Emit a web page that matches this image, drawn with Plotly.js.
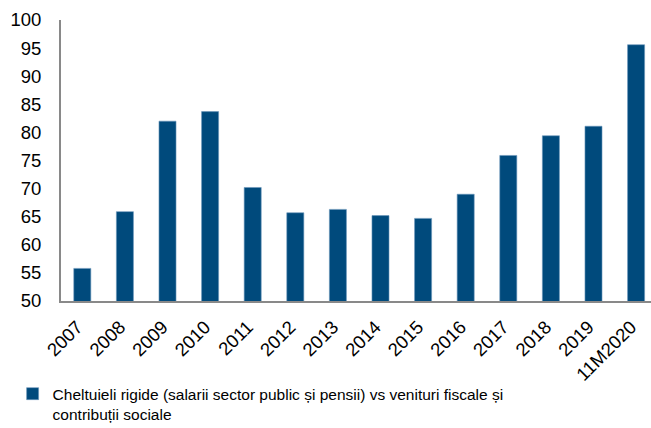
<!DOCTYPE html>
<html>
<head>
<meta charset="utf-8">
<script src="https://cdn.plot.ly/plotly-3.0.1.min.js"></script>
<style>
  html, body { margin: 0; padding: 0; background: #fff; }
  #chart { width: 651px; height: 428px; }
</style>
</head>
<body>
<div id="chart"></div>
<script>
const categories = ["2007", "2008", "2009", "2010", "2011", "2012", "2013", "2014", "2015", "2016", "2017", "2018", "2019", "11M2020"];
const values = [55.8, 65.9, 82.0, 83.7, 70.2, 65.7, 66.3, 65.2, 64.7, 69.0, 75.9, 79.4, 81.1, 95.6];
const seriesName = "Cheltuieli rigide (salarii sector public și pensii) vs venituri fiscale și<br>contribuții sociale";
const yTicks = [50, 55, 60, 65, 70, 75, 80, 85, 90, 95, 100];

const trace = {
  type: "bar",
  x: categories,
  y: values,
  name: seriesName,
  width: 0.4,
  marker: { color: "#004A7C", line: { color: "#6A96BA", width: 0.6 } },
  showlegend: true,
  hoverinfo: "x+y"
};

const layout = {
  width: 651,
  height: 428,
  margin: { l: 61, r: 0, t: 20, b: 127, autoexpand: false },
  paper_bgcolor: "#ffffff",
  plot_bgcolor: "#ffffff",
  font: { family: "Liberation Sans, Arial, sans-serif", color: "#000000", size: 18 },
  bargap: 0.6,
  xaxis: {
    type: "category",
    range: [-0.5, 13.35],
    automargin: false,
    showline: true,
    linecolor: "#898989",
    linewidth: 2,
    ticks: "outside",
    ticklen: 6,
    tickcolor: "rgba(0,0,0,0)",
    showgrid: false,
    zeroline: false,
    tickangle: -45,
    ticklabelshift: -5,
    tickfont: { size: 18.5, color: "#000000" }
  },
  yaxis: {
    range: [50, 100],
    automargin: false,
    tickvals: yTicks,
    ticktext: yTicks.map(String),
    showline: true,
    linecolor: "#898989",
    linewidth: 2,
    ticks: "",
    showgrid: false,
    zeroline: false,
    tickfont: { size: 18.5, color: "#000000" },
    ticklabelstandoff: 14
  },
  showlegend: true,
  legend: {
    orientation: "h",
    x: -0.082,
    xanchor: "left",
    yref: "container",
    y: 0.119,
    yanchor: "top",
    valign: "top",
    font: { size: 15.5, color: "#000000" },
    bgcolor: "rgba(0,0,0,0)"
  }
};

Plotly.newPlot("chart", [trace], layout, { displayModeBar: false, staticPlot: true });
</script>
</body>
</html>
